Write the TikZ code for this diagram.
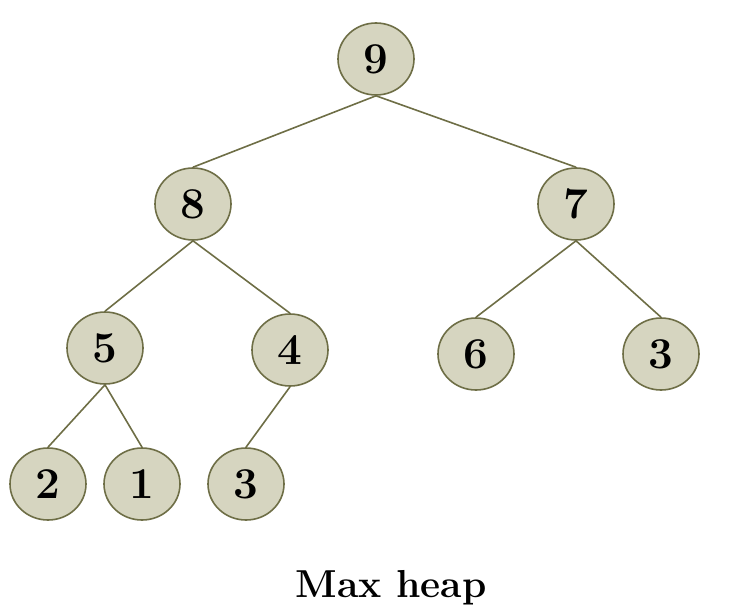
\documentclass[tikz,border=0pt]{standalone}
\usepackage{tikz}
\usetikzlibrary{shapes.geometric}
\definecolor{heapfill}{RGB}{214,213,192}
\definecolor{heapline}{RGB}{110,110,70}

\begin{document}
\begin{tikzpicture}[x=1pt,y=-1pt,
  key/.style={ellipse, draw=heapline, fill=heapfill, line width=1.6pt,
    minimum width=76pt, minimum height=72pt, inner sep=0pt,
    font=\fontsize{44}{48}\selectfont\bfseries},
  link/.style={draw=heapline, line width=1.6pt}]
\useasboundingbox (0,0) rectangle (743,615);
\node[key] (root) at (376,59) {9};
\node[key] (left) at (193,204) {8};
\node[key] (right) at (576,204) {7};
\node[key] (ll) at (105,348) {5};
\node[key] (lr) at (290,350) {4};
\node[key] (rl) at (476,354) {6};
\node[key] (rr) at (661,354) {3};
\node[key] (lll) at (48,484) {2};
\node[key] (llr) at (142,484) {1};
\node[key] (lrl) at (246,484) {3};
\node[font=\fontsize{39}{44}\selectfont\bfseries] (caption) at (391,588) {Max heap};

\draw[link] (root.south) -- (left.north);
\draw[link] (root.south) -- (right.north);
\draw[link] (left.south) -- (ll.north);
\draw[link] (left.south) -- (lr.north);
\draw[link] (right.south) -- (rl.north);
\draw[link] (right.south) -- (rr.north);
\draw[link] (ll.south) -- (lll.north);
\draw[link] (ll.south) -- (llr.north);
\draw[link] (lr.south) -- (lrl.north);
\end{tikzpicture}
\end{document}
